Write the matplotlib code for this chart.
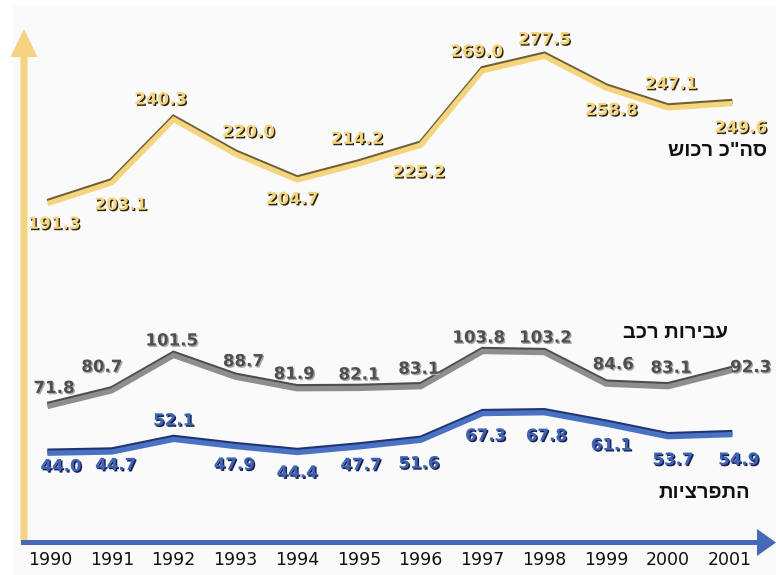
import matplotlib
matplotlib.use("Agg")
import matplotlib.pyplot as plt
import matplotlib.patheffects as pe
from matplotlib.patches import FancyArrow, Rectangle

# Data
years = [1990, 1991, 1992, 1993, 1994, 1995, 1996, 1997, 1998, 1999, 2000, 2001]
total = [191.3, 203.1, 240.3, 220.0, 204.7, 214.2, 225.2, 269.0, 277.5, 258.8, 247.1, 249.6]
vehicle = [71.8, 80.7, 101.5, 88.7, 81.9, 82.1, 83.1, 103.8, 103.2, 84.6, 83.1, 92.3]
burglary = [44.0, 44.7, 52.1, 47.9, 44.4, 47.7, 51.6, 67.3, 67.8, 61.1, 53.7, 54.9]
names = ['סה"כ רכוש', 'עבירות רכב', 'התפרציות']

# Label offsets (pixels) from each point
total_off = [(4, -21), (9, -22), (-13, 20), (13, 22), (-5, -19), (-2, 25),
             (-2, -27), (-6, 19), (0, 17), (5, -22), (3, 24), (11, -24)]
vehicle_off = [(4, 18), (-10, 24), (-2, 15), (8, 16), (-3, 15), (0, 14),
               (-2, 18), (-4, 14), (1, 15), (7, 20), (3, 19), (21, 4)]
burglary_off = [(11, -13), (4, -13), (0, 19), (-1, -18), (0, -20), (2, -18),
                (-2, -23), (3, -22), (2, -23), (5, -21), (5, -23), (9, -25)]
name_off = [(37, -47), (-2, 39), (20, -58)]

W, H = 776, 575


def fx(px):
    return px / float(W)


def fy(py):
    return 1 - py / float(H)


fig = plt.figure(figsize=(W / 100., H / 100.), dpi=100)
fig.patch.set_facecolor("white")
fig.add_artist(Rectangle((fx(13), 0), 1 - fx(13), fy(5), transform=fig.transFigure,
                         color="#fafafa", zorder=-5))

# axes bottom sits on the x arrow
ax = fig.add_axes([0, fy(543), 1, 543. / H])
ax.set_facecolor("none")
ax.set_xlim(1989.191, 2001.748)
ax.set_ylim(-8.82, 310.59)
for s in ax.spines.values():
    s.set_visible(False)
ax.set_yticks([])
ax.set_xticks(years, [str(y) for y in years])
ax.tick_params(axis="x", length=0, pad=6, labelsize=12.5, labelcolor="#111111")

# axis arrows
fig.add_artist(FancyArrow(fx(24), fy(545), 0, fy(29) - fy(545), width=7. / W,
                          head_width=27. / W, head_length=28. / H,
                          length_includes_head=True, transform=fig.transFigure,
                          color="#f4d382", lw=0, zorder=1))
fig.add_artist(FancyArrow(fx(21), fy(542.5), fx(776) - fx(21), 0, width=5. / H,
                          head_width=27. / H, head_length=19. / W,
                          length_includes_head=True, transform=fig.transFigure,
                          color="#4669b9", lw=0, zorder=1))

series = [
    (total, "#f4d47c", "#6e5f35", total_off, "#f4d47c", "#2a2614"),
    (vehicle, "#8e8e8e", "#4d4d4d", vehicle_off, "#4f4f4f", "#a8a8a8"),
    (burglary, "#4a72c4", "#1f3470", burglary_off, "#3f64b6", "#17204a"),
]

for i, (vals, body, edge, offs, tcol, tshadow) in enumerate(series):
    ax.plot(years, vals, color=body, lw=3.8, solid_joinstyle="miter",
            path_effects=[pe.Stroke(linewidth=3.8, foreground=edge, offset=(0, 1.5)),
                          pe.Normal()])
    for yr, v, (dx, dy) in zip(years, vals, offs):
        ax.annotate("%.1f" % v, (yr, v), xytext=(dx, dy), textcoords="offset pixels",
                    ha="center", va="center", fontsize=12, fontweight="bold",
                    color=tcol, annotation_clip=False,
                    path_effects=[pe.withSimplePatchShadow(offset=(1.0, -1.0),
                                                           shadow_rgbFace=tshadow,
                                                           alpha=1)])
    # the original shows the hebrew glyphs in left-to-right order, so reverse
    ax.annotate(names[i][::-1], (years[-1], vals[-1]), xytext=name_off[i],
                textcoords="offset pixels", ha="right", va="center",
                fontsize=14.5, fontweight="bold", family="Liberation Sans",
                color="#111111", annotation_clip=False)

fig.savefig("out.png", dpi=100)
